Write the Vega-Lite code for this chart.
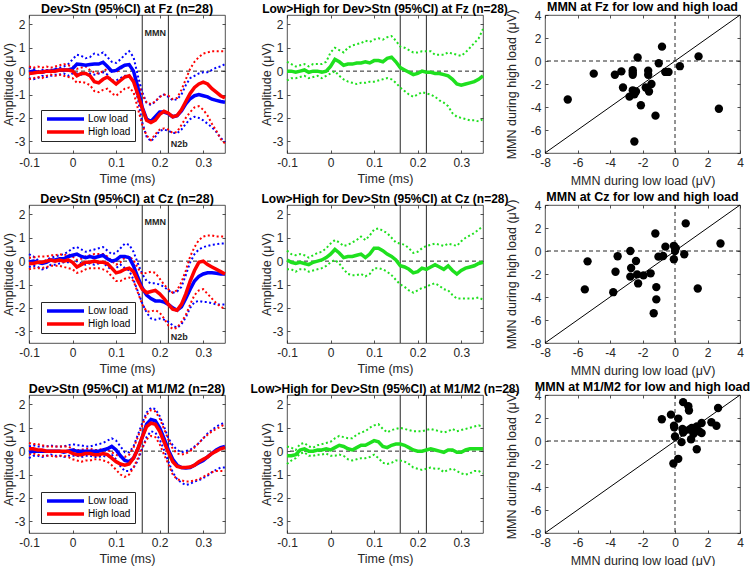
{
"$schema": "https://vega.github.io/schema/vega-lite/v6.json",
"autosize": {"type": "none"},
"padding": {"left": 29, "top": 15, "right": 721, "bottom": 551},
"background": "white",
"config": {
 "font": "Liberation Sans",
 "view": {"stroke": "#262626", "strokeWidth": 0.8},
 "axis": {"domain": false, "grid": false, "tickColor": "#262626", "tickSize": -3, "tickWidth": 0.8, "labelPadding": 7, "labelFont": "Liberation Sans", "labelFontSize": 12, "labelColor": "#262626", "titleFont": "Liberation Sans", "titleFontSize": 12.5, "titleFontWeight": "normal", "titleColor": "#262626", "labelFlush": false, "labelOverlap": false},
 "axisX": {"titlePadding": 4},
 "axisY": {"titlePadding": -1},
 "title": {"fontSize": 12.5, "fontWeight": "bold", "font": "Liberation Sans", "color": "black", "offset": -1},
 "legend": {"labelFont": "Liberation Sans"}
},
"datasets": {
"fz": [
{"t":-0.1,"lm":-0.05,"hm":-0.1,"lu":0.15,"ll":-0.3,"hu":0.2,"hl":-0.35,"g":0,"gu":0.4,"gl":-0.4},
{"t":-0.09,"lm":0,"hm":-0.08,"lu":0.1,"ll":-0.35,"hu":0.15,"hl":-0.3,"g":0,"gu":0.3,"gl":-0.3},
{"t":-0.08,"lm":-0.05,"hm":-0.05,"lu":0,"ll":-0.3,"hu":0.2,"hl":-0.25,"g":-0.05,"gu":0.2,"gl":-0.3},
{"t":-0.07,"lm":-0.05,"hm":-0.05,"lu":0.05,"ll":-0.2,"hu":0.15,"hl":-0.3,"g":0,"gu":0.25,"gl":-0.25},
{"t":-0.06,"lm":0,"hm":0,"lu":0.05,"ll":-0.25,"hu":0.2,"hl":-0.2,"g":0.05,"gu":0.3,"gl":-0.2},
{"t":-0.05,"lm":0,"hm":0,"lu":0.05,"ll":-0.2,"hu":0.15,"hl":-0.15,"g":-0.05,"gu":0.2,"gl":-0.3},
{"t":-0.04,"lm":0.05,"hm":0,"lu":0.1,"ll":-0.15,"hu":0.2,"hl":-0.2,"g":0,"gu":0.3,"gl":-0.25},
{"t":-0.03,"lm":0.05,"hm":0.05,"lu":0.15,"ll":-0.15,"hu":0.25,"hl":-0.15,"g":0,"gu":0.3,"gl":-0.2},
{"t":-0.02,"lm":0.05,"hm":0.05,"lu":0.2,"ll":-0.1,"hu":0.3,"hl":-0.2,"g":-0.05,"gu":0.3,"gl":-0.3},
{"t":-0.01,"lm":0.05,"hm":0.05,"lu":0.3,"ll":-0.2,"hu":0.25,"hl":-0.25,"g":0,"gu":0.4,"gl":-0.2},
{"t":0,"lm":0.1,"hm":0,"lu":0.5,"ll":-0.1,"hu":0.2,"hl":-0.3,"g":0.2,"gu":0.8,"gl":-0.1},
{"t":0.01,"lm":0.3,"hm":-0.2,"lu":0.7,"ll":-0.1,"hu":0.1,"hl":-0.5,"g":0.5,"gu":1.0,"gl":0},
{"t":0.02,"lm":0.28,"hm":-0.1,"lu":0.65,"ll":-0.15,"hu":0.15,"hl":-0.45,"g":0.4,"gu":0.9,"gl":-0.2},
{"t":0.03,"lm":0.25,"hm":-0.1,"lu":0.55,"ll":-0.1,"hu":0.2,"hl":-0.5,"g":0.25,"gu":0.8,"gl":-0.35},
{"t":0.04,"lm":0.28,"hm":-0.2,"lu":0.6,"ll":-0.1,"hu":0.05,"hl":-0.6,"g":0.3,"gu":1.0,"gl":-0.45},
{"t":0.05,"lm":0.3,"hm":-0.45,"lu":0.75,"ll":-0.15,"hu":-0.05,"hl":-0.85,"g":0.3,"gu":1.1,"gl":-0.5},
{"t":0.06,"lm":0.3,"hm":-0.5,"lu":0.7,"ll":-0.1,"hu":-0.1,"hl":-0.9,"g":0.35,"gu":1.15,"gl":-0.55},
{"t":0.07,"lm":0.38,"hm":-0.35,"lu":0.8,"ll":-0.05,"hu":0,"hl":-0.8,"g":0.35,"gu":1.2,"gl":-0.5},
{"t":0.08,"lm":0.2,"hm":-0.25,"lu":0.6,"ll":-0.15,"hu":0.1,"hl":-0.75,"g":0.4,"gu":1.3,"gl":-0.5},
{"t":0.09,"lm":0,"hm":-0.4,"lu":0.4,"ll":-0.4,"hu":0.05,"hl":-0.95,"g":0.35,"gu":1.25,"gl":-0.45},
{"t":0.1,"lm":0.03,"hm":-0.55,"lu":0.35,"ll":-0.4,"hu":-0.05,"hl":-1.05,"g":0.45,"gu":1.35,"gl":-0.45},
{"t":0.11,"lm":0.15,"hm":-0.4,"lu":0.5,"ll":-0.3,"hu":0.1,"hl":-0.9,"g":0.45,"gu":1.4,"gl":-0.4},
{"t":0.12,"lm":0.25,"hm":-0.25,"lu":0.7,"ll":-0.2,"hu":0.25,"hl":-0.75,"g":0.4,"gu":1.35,"gl":-0.35},
{"t":0.13,"lm":0.28,"hm":-0.2,"lu":0.85,"ll":-0.2,"hu":0.25,"hl":-0.7,"g":0.55,"gu":1.45,"gl":-0.3},
{"t":0.14,"lm":0,"hm":-0.45,"lu":0.6,"ll":-0.4,"hu":0,"hl":-0.9,"g":0.6,"gu":1.5,"gl":-0.35},
{"t":0.15,"lm":-0.7,"hm":-1,"lu":-0.2,"ll":-1.2,"hu":-0.5,"hl":-1.6,"g":0.4,"gu":1.3,"gl":-0.5},
{"t":0.16,"lm":-1.55,"hm":-1.6,"lu":-0.9,"ll":-2.2,"hu":-1,"hl":-2.3,"g":0.15,"gu":1.05,"gl":-0.7},
{"t":0.17,"lm":-2.05,"hm":-2.1,"lu":-1.35,"ll":-2.8,"hu":-1.35,"hl":-2.75,"g":0.05,"gu":1.0,"gl":-0.85},
{"t":0.18,"lm":-2.15,"hm":-2.2,"lu":-1.45,"ll":-3.0,"hu":-1.4,"hl":-2.95,"g":-0.05,"gu":0.9,"gl":-1.0},
{"t":0.19,"lm":-1.95,"hm":-2.1,"lu":-1.3,"ll":-2.8,"hu":-1.3,"hl":-2.7,"g":-0.15,"gu":0.8,"gl":-1.1},
{"t":0.2,"lm":-1.75,"hm":-1.85,"lu":-1.1,"ll":-2.55,"hu":-1.1,"hl":-2.5,"g":-0.1,"gu":0.8,"gl":-1.0},
{"t":0.21,"lm":-1.75,"hm":-1.72,"lu":-1.0,"ll":-2.5,"hu":-1.0,"hl":-2.45,"g":0,"gu":0.85,"gl":-0.9},
{"t":0.22,"lm":-1.82,"hm":-1.8,"lu":-1.1,"ll":-2.55,"hu":-1.05,"hl":-2.5,"g":-0.05,"gu":0.85,"gl":-0.95},
{"t":0.23,"lm":-1.95,"hm":-1.95,"lu":-1.25,"ll":-2.65,"hu":-1.2,"hl":-2.65,"g":-0.05,"gu":0.85,"gl":-1.0},
{"t":0.24,"lm":-1.9,"hm":-1.9,"lu":-1.2,"ll":-2.65,"hu":-1.15,"hl":-2.6,"g":-0.1,"gu":0.7,"gl":-1.1},
{"t":0.25,"lm":-1.7,"hm":-1.65,"lu":-1.0,"ll":-2.5,"hu":-0.8,"hl":-2.3,"g":-0.1,"gu":0.7,"gl":-1.25},
{"t":0.26,"lm":-1.4,"hm":-1.3,"lu":-0.6,"ll":-2.25,"hu":-0.35,"hl":-2.0,"g":-0.15,"gu":0.7,"gl":-1.35},
{"t":0.27,"lm":-1.18,"hm":-0.95,"lu":-0.3,"ll":-2.05,"hu":0.1,"hl":-1.75,"g":-0.2,"gu":0.8,"gl":-1.5},
{"t":0.28,"lm":-1.05,"hm":-0.7,"lu":-0.2,"ll":-1.95,"hu":0.4,"hl":-1.55,"g":-0.35,"gu":0.75,"gl":-1.8},
{"t":0.29,"lm":-1.0,"hm":-0.55,"lu":-0.1,"ll":-2.0,"hu":0.6,"hl":-1.5,"g":-0.55,"gu":0.7,"gl":-1.95},
{"t":0.3,"lm":-1.05,"hm":-0.47,"lu":-0.05,"ll":-2.1,"hu":0.75,"hl":-1.65,"g":-0.6,"gu":0.65,"gl":-2.0},
{"t":0.31,"lm":-1.1,"hm":-0.55,"lu":-0.05,"ll":-2.25,"hu":0.8,"hl":-1.9,"g":-0.55,"gu":0.8,"gl":-2.05},
{"t":0.32,"lm":-1.2,"hm":-0.75,"lu":0.05,"ll":-2.4,"hu":0.85,"hl":-2.25,"g":-0.5,"gu":1.0,"gl":-2.1},
{"t":0.33,"lm":-1.25,"hm":-0.9,"lu":0.15,"ll":-2.6,"hu":0.85,"hl":-2.55,"g":-0.45,"gu":1.2,"gl":-2.1},
{"t":0.34,"lm":-1.3,"hm":-1.05,"lu":0.2,"ll":-2.85,"hu":0.85,"hl":-2.9,"g":-0.35,"gu":1.4,"gl":-2.15},
{"t":0.35,"lm":-1.33,"hm":-1.15,"lu":0.3,"ll":-3.05,"hu":0.85,"hl":-3.1,"g":-0.2,"gu":1.8,"gl":-2.05}
],
"cz": [
{"t":-0.1,"lm":-0.05,"hm":-0.1,"lu":0.3,"ll":-0.25,"hu":0.15,"hl":-0.35,"g":0.05,"gu":0.45,"gl":-0.35},
{"t":-0.09,"lm":0,"hm":-0.1,"lu":0.2,"ll":-0.2,"hu":0.15,"hl":-0.3,"g":-0.05,"gu":0.3,"gl":-0.35},
{"t":-0.08,"lm":-0.05,"hm":-0.05,"lu":0.05,"ll":-0.25,"hu":0.2,"hl":-0.3,"g":-0.1,"gu":0.25,"gl":-0.45},
{"t":-0.07,"lm":-0.1,"hm":-0.05,"lu":-0.05,"ll":-0.35,"hu":0.2,"hl":-0.3,"g":-0.05,"gu":0.3,"gl":-0.35},
{"t":-0.06,"lm":-0.05,"hm":0,"lu":0.05,"ll":-0.3,"hu":0.2,"hl":-0.25,"g":-0.1,"gu":0.25,"gl":-0.35},
{"t":-0.05,"lm":0.05,"hm":0.05,"lu":0.15,"ll":-0.15,"hu":0.25,"hl":-0.2,"g":-0.15,"gu":0.15,"gl":-0.45},
{"t":-0.04,"lm":0.05,"hm":0,"lu":0.2,"ll":-0.15,"hu":0.25,"hl":-0.2,"g":-0.05,"gu":0.25,"gl":-0.4},
{"t":-0.03,"lm":0.1,"hm":0.05,"lu":0.25,"ll":-0.1,"hu":0.3,"hl":-0.2,"g":0,"gu":0.35,"gl":-0.35},
{"t":-0.02,"lm":0.1,"hm":0,"lu":0.3,"ll":-0.05,"hu":0.25,"hl":-0.25,"g":0.05,"gu":0.4,"gl":-0.3},
{"t":-0.01,"lm":0.2,"hm":0.05,"lu":0.4,"ll":-0.05,"hu":0.3,"hl":-0.3,"g":0.15,"gu":0.55,"gl":-0.2},
{"t":0,"lm":0.25,"hm":-0.05,"lu":0.55,"ll":-0.05,"hu":0.2,"hl":-0.35,"g":0.3,"gu":0.75,"gl":-0.05},
{"t":0.01,"lm":0.3,"hm":-0.25,"lu":0.6,"ll":0,"hu":0.05,"hl":-0.5,"g":0.5,"gu":0.9,"gl":0.05},
{"t":0.02,"lm":0.2,"hm":-0.15,"lu":0.5,"ll":-0.1,"hu":0.1,"hl":-0.45,"g":0.35,"gu":0.8,"gl":-0.1},
{"t":0.03,"lm":0.15,"hm":-0.05,"lu":0.4,"ll":-0.15,"hu":0.2,"hl":-0.35,"g":0.15,"gu":0.65,"gl":-0.35},
{"t":0.04,"lm":0.2,"hm":-0.05,"lu":0.45,"ll":-0.1,"hu":0.25,"hl":-0.3,"g":0.2,"gu":0.7,"gl":-0.55},
{"t":0.05,"lm":0.15,"hm":0,"lu":0.5,"ll":-0.15,"hu":0.3,"hl":-0.3,"g":0.2,"gu":0.8,"gl":-0.6},
{"t":0.06,"lm":0.2,"hm":-0.05,"lu":0.55,"ll":-0.1,"hu":0.3,"hl":-0.3,"g":0.25,"gu":0.9,"gl":-0.6},
{"t":0.07,"lm":0.25,"hm":-0.05,"lu":0.6,"ll":-0.05,"hu":0.3,"hl":-0.35,"g":0.3,"gu":1.05,"gl":-0.55},
{"t":0.08,"lm":0.1,"hm":-0.1,"lu":0.45,"ll":-0.25,"hu":0.2,"hl":-0.45,"g":0.15,"gu":0.9,"gl":-0.65},
{"t":0.09,"lm":0,"hm":-0.3,"lu":0.3,"ll":-0.35,"hu":0,"hl":-0.65,"g":0.3,"gu":1.1,"gl":-0.55},
{"t":0.1,"lm":0.05,"hm":-0.5,"lu":0.35,"ll":-0.3,"hu":-0.15,"hl":-0.85,"g":0.55,"gu":1.35,"gl":-0.3},
{"t":0.11,"lm":0.2,"hm":-0.45,"lu":0.55,"ll":-0.15,"hu":-0.05,"hl":-0.85,"g":0.55,"gu":1.4,"gl":-0.3},
{"t":0.12,"lm":0.2,"hm":-0.35,"lu":0.75,"ll":-0.3,"hu":0.15,"hl":-0.75,"g":0.45,"gu":1.3,"gl":-0.35},
{"t":0.13,"lm":0.15,"hm":-0.3,"lu":0.7,"ll":-0.4,"hu":0.2,"hl":-0.7,"g":0.3,"gu":1.2,"gl":-0.45},
{"t":0.14,"lm":-0.2,"hm":-0.45,"lu":0.4,"ll":-0.8,"hu":0.05,"hl":-0.85,"g":0.2,"gu":1.0,"gl":-0.6},
{"t":0.15,"lm":-0.7,"hm":-0.85,"lu":-0.1,"ll":-1.3,"hu":-0.3,"hl":-1.35,"g":0.05,"gu":0.8,"gl":-0.8},
{"t":0.16,"lm":-1.15,"hm":-1.2,"lu":-0.55,"ll":-1.8,"hu":-0.55,"hl":-1.85,"g":-0.2,"gu":0.75,"gl":-1.0},
{"t":0.17,"lm":-1.45,"hm":-1.35,"lu":-0.85,"ll":-2.2,"hu":-0.5,"hl":-2.15,"g":-0.25,"gu":0.7,"gl":-1.1},
{"t":0.18,"lm":-1.6,"hm":-1.3,"lu":-0.95,"ll":-2.45,"hu":-0.45,"hl":-2.15,"g":-0.35,"gu":0.55,"gl":-1.25},
{"t":0.19,"lm":-1.7,"hm":-1.25,"lu":-0.95,"ll":-2.5,"hu":-0.5,"hl":-2.1,"g":-0.5,"gu":0.35,"gl":-1.35},
{"t":0.2,"lm":-1.7,"hm":-1.4,"lu":-1.0,"ll":-2.45,"hu":-0.75,"hl":-2.2,"g":-0.45,"gu":0.4,"gl":-1.25},
{"t":0.21,"lm":-1.75,"hm":-1.6,"lu":-1.1,"ll":-2.5,"hu":-1.0,"hl":-2.45,"g":-0.3,"gu":0.55,"gl":-1.15},
{"t":0.22,"lm":-1.85,"hm":-1.85,"lu":-1.25,"ll":-2.6,"hu":-1.2,"hl":-2.75,"g":-0.35,"gu":0.65,"gl":-1.1},
{"t":0.23,"lm":-2.0,"hm":-2.05,"lu":-1.35,"ll":-2.75,"hu":-1.35,"hl":-2.9,"g":-0.25,"gu":0.7,"gl":-1.0},
{"t":0.24,"lm":-2.1,"hm":-2.1,"lu":-1.3,"ll":-2.85,"hu":-1.25,"hl":-2.85,"g":-0.15,"gu":0.75,"gl":-0.95},
{"t":0.25,"lm":-1.95,"hm":-1.85,"lu":-1.1,"ll":-2.7,"hu":-0.9,"hl":-2.6,"g":-0.25,"gu":0.7,"gl":-1.05},
{"t":0.26,"lm":-1.6,"hm":-1.4,"lu":-0.6,"ll":-2.4,"hu":-0.4,"hl":-2.3,"g":-0.35,"gu":0.65,"gl":-1.2},
{"t":0.27,"lm":-1.2,"hm":-0.85,"lu":-0.05,"ll":-2.0,"hu":0.2,"hl":-1.85,"g":-0.2,"gu":0.75,"gl":-1.25},
{"t":0.28,"lm":-0.85,"hm":-0.4,"lu":0.3,"ll":-1.75,"hu":0.6,"hl":-1.45,"g":-0.4,"gu":0.7,"gl":-1.45},
{"t":0.29,"lm":-0.65,"hm":-0.05,"lu":0.5,"ll":-1.7,"hu":0.9,"hl":-1.25,"g":-0.55,"gu":0.65,"gl":-1.6},
{"t":0.3,"lm":-0.55,"hm":0,"lu":0.6,"ll":-1.75,"hu":1.05,"hl":-1.2,"g":-0.4,"gu":0.85,"gl":-1.6},
{"t":0.31,"lm":-0.5,"hm":-0.15,"lu":0.65,"ll":-1.75,"hu":1.1,"hl":-1.4,"g":-0.3,"gu":1.0,"gl":-1.6},
{"t":0.32,"lm":-0.5,"hm":-0.25,"lu":0.7,"ll":-1.8,"hu":1.1,"hl":-1.6,"g":-0.25,"gu":1.1,"gl":-1.6},
{"t":0.33,"lm":-0.52,"hm":-0.35,"lu":0.72,"ll":-1.85,"hu":1.05,"hl":-1.8,"g":-0.2,"gu":1.2,"gl":-1.6},
{"t":0.34,"lm":-0.55,"hm":-0.45,"lu":0.75,"ll":-1.85,"hu":1.05,"hl":-1.95,"g":-0.1,"gu":1.35,"gl":-1.55},
{"t":0.35,"lm":-0.55,"hm":-0.55,"lu":0.75,"ll":-1.85,"hu":1.05,"hl":-2.05,"g":-0.05,"gu":1.5,"gl":-1.65}
],
"mm": [
{"t":-0.1,"lm":-0.05,"hm":0.1,"lu":0.2,"ll":-0.3,"hu":0.35,"hl":-0.15,"g":-0.2,"gu":0.2,"gl":-0.55},
{"t":-0.09,"lm":0,"hm":0.1,"lu":0.25,"ll":-0.2,"hu":0.3,"hl":-0.1,"g":-0.2,"gu":0.15,"gl":-0.4},
{"t":-0.08,"lm":0,"hm":0.05,"lu":0.2,"ll":-0.2,"hu":0.3,"hl":-0.15,"g":-0.15,"gu":0.05,"gl":-0.3},
{"t":-0.07,"lm":0,"hm":0.05,"lu":0.2,"ll":-0.25,"hu":0.25,"hl":-0.2,"g":0.05,"gu":0.3,"gl":-0.1},
{"t":-0.06,"lm":0,"hm":0,"lu":0.2,"ll":-0.2,"hu":0.2,"hl":-0.2,"g":0.1,"gu":0.35,"gl":-0.05},
{"t":-0.05,"lm":0,"hm":0,"lu":0.25,"ll":-0.15,"hu":0.2,"hl":-0.2,"g":0,"gu":0.2,"gl":-0.2},
{"t":-0.04,"lm":0,"hm":0,"lu":0.2,"ll":-0.2,"hu":0.2,"hl":-0.25,"g":0,"gu":0.15,"gl":-0.2},
{"t":-0.03,"lm":0,"hm":0,"lu":0.2,"ll":-0.2,"hu":0.2,"hl":-0.2,"g":0.05,"gu":0.25,"gl":-0.15},
{"t":-0.02,"lm":-0.05,"hm":0,"lu":0.2,"ll":-0.25,"hu":0.2,"hl":-0.2,"g":0.05,"gu":0.3,"gl":-0.15},
{"t":-0.01,"lm":0,"hm":0,"lu":0.25,"ll":-0.2,"hu":0.2,"hl":-0.25,"g":0.1,"gu":0.35,"gl":-0.1},
{"t":0,"lm":0.05,"hm":-0.1,"lu":0.3,"ll":-0.2,"hu":0.1,"hl":-0.35,"g":0.05,"gu":0.4,"gl":-0.2},
{"t":0.01,"lm":0,"hm":-0.15,"lu":0.25,"ll":-0.2,"hu":0.05,"hl":-0.4,"g":0.15,"gu":0.55,"gl":-0.2},
{"t":0.02,"lm":0,"hm":-0.15,"lu":0.25,"ll":-0.25,"hu":0.05,"hl":-0.45,"g":0.25,"gu":0.65,"gl":-0.15},
{"t":0.03,"lm":0,"hm":-0.1,"lu":0.2,"ll":-0.2,"hu":0.1,"hl":-0.4,"g":0.2,"gu":0.6,"gl":-0.2},
{"t":0.04,"lm":0,"hm":-0.1,"lu":0.2,"ll":-0.2,"hu":0.1,"hl":-0.4,"g":0.1,"gu":0.55,"gl":-0.35},
{"t":0.05,"lm":0,"hm":-0.15,"lu":0.25,"ll":-0.25,"hu":0.05,"hl":-0.35,"g":0.05,"gu":0.55,"gl":-0.4},
{"t":0.06,"lm":0,"hm":-0.15,"lu":0.3,"ll":-0.25,"hu":0.05,"hl":-0.35,"g":0.15,"gu":0.7,"gl":-0.35},
{"t":0.07,"lm":0.05,"hm":-0.1,"lu":0.35,"ll":-0.2,"hu":0.1,"hl":-0.4,"g":0.25,"gu":0.8,"gl":-0.3},
{"t":0.08,"lm":0.1,"hm":-0.15,"lu":0.45,"ll":-0.25,"hu":0.05,"hl":-0.45,"g":0.25,"gu":0.85,"gl":-0.3},
{"t":0.09,"lm":0.2,"hm":-0.3,"lu":0.55,"ll":-0.15,"hu":-0.05,"hl":-0.6,"g":0.35,"gu":1.0,"gl":-0.25},
{"t":0.1,"lm":0.05,"hm":-0.45,"lu":0.45,"ll":-0.35,"hu":-0.15,"hl":-0.8,"g":0.45,"gu":1.1,"gl":-0.15},
{"t":0.11,"lm":-0.2,"hm":-0.55,"lu":0.2,"ll":-0.65,"hu":-0.25,"hl":-1.0,"g":0.4,"gu":1.15,"gl":-0.3},
{"t":0.12,"lm":-0.4,"hm":-0.6,"lu":-0.05,"ll":-0.85,"hu":-0.25,"hl":-1.1,"g":0.2,"gu":0.95,"gl":-0.5},
{"t":0.13,"lm":-0.45,"hm":-0.55,"lu":-0.05,"ll":-0.85,"hu":-0.15,"hl":-1.0,"g":0.15,"gu":0.8,"gl":-0.55},
{"t":0.14,"lm":-0.3,"hm":-0.3,"lu":0.2,"ll":-0.7,"hu":0.15,"hl":-0.7,"g":0.25,"gu":0.9,"gl":-0.5},
{"t":0.15,"lm":0.1,"hm":0.1,"lu":0.7,"ll":-0.4,"hu":0.6,"hl":-0.3,"g":0.3,"gu":0.95,"gl":-0.4},
{"t":0.16,"lm":0.6,"hm":0.6,"lu":1.2,"ll":0.1,"hu":1.1,"hl":0.15,"g":0.3,"gu":1.0,"gl":-0.4},
{"t":0.17,"lm":1.15,"hm":1.05,"lu":1.65,"ll":0.6,"hu":1.55,"hl":0.5,"g":0.25,"gu":0.95,"gl":-0.45},
{"t":0.18,"lm":1.35,"hm":1.2,"lu":1.85,"ll":0.85,"hu":1.75,"hl":0.65,"g":0.15,"gu":0.9,"gl":-0.55},
{"t":0.19,"lm":1.3,"hm":1.15,"lu":1.8,"ll":0.8,"hu":1.7,"hl":0.6,"g":0.05,"gu":0.85,"gl":-0.7},
{"t":0.2,"lm":1.0,"hm":0.85,"lu":1.5,"ll":0.5,"hu":1.4,"hl":0.3,"g":0,"gu":0.85,"gl":-0.75},
{"t":0.21,"lm":0.55,"hm":0.4,"lu":1.05,"ll":0.05,"hu":0.95,"hl":-0.15,"g":0,"gu":0.85,"gl":-0.8},
{"t":0.22,"lm":0.05,"hm":-0.05,"lu":0.55,"ll":-0.45,"hu":0.5,"hl":-0.55,"g":0.05,"gu":0.9,"gl":-0.75},
{"t":0.23,"lm":-0.35,"hm":-0.45,"lu":0.25,"ll":-0.9,"hu":0.1,"hl":-1.0,"g":0.1,"gu":0.95,"gl":-0.7},
{"t":0.24,"lm":-0.6,"hm":-0.65,"lu":0.05,"ll":-1.2,"hu":-0.1,"hl":-1.2,"g":0.05,"gu":0.9,"gl":-0.75},
{"t":0.25,"lm":-0.7,"hm":-0.7,"lu":-0.05,"ll":-1.35,"hu":-0.15,"hl":-1.25,"g":0,"gu":0.85,"gl":-0.75},
{"t":0.26,"lm":-0.72,"hm":-0.7,"lu":0,"ll":-1.45,"hu":-0.1,"hl":-1.3,"g":-0.05,"gu":0.8,"gl":-0.9},
{"t":0.27,"lm":-0.7,"hm":-0.68,"lu":0.05,"ll":-1.4,"hu":0,"hl":-1.3,"g":0.05,"gu":0.85,"gl":-0.8},
{"t":0.28,"lm":-0.6,"hm":-0.6,"lu":0.2,"ll":-1.3,"hu":0.15,"hl":-1.25,"g":0.05,"gu":0.95,"gl":-0.75},
{"t":0.29,"lm":-0.5,"hm":-0.45,"lu":0.35,"ll":-1.25,"hu":0.35,"hl":-1.2,"g":-0.05,"gu":0.85,"gl":-0.85},
{"t":0.3,"lm":-0.4,"hm":-0.35,"lu":0.55,"ll":-1.15,"hu":0.55,"hl":-1.1,"g":-0.05,"gu":0.9,"gl":-0.95},
{"t":0.31,"lm":-0.25,"hm":-0.25,"lu":0.75,"ll":-1.05,"hu":0.7,"hl":-1.0,"g":0.05,"gu":0.95,"gl":-1.0},
{"t":0.32,"lm":-0.1,"hm":-0.1,"lu":0.9,"ll":-0.9,"hu":0.85,"hl":-0.9,"g":0.1,"gu":1.0,"gl":-0.95},
{"t":0.33,"lm":0.05,"hm":0,"lu":1.05,"ll":-0.8,"hu":0.95,"hl":-0.85,"g":0.1,"gu":1.05,"gl":-0.85},
{"t":0.34,"lm":0.15,"hm":0.1,"lu":1.15,"ll":-0.7,"hu":1.05,"hl":-0.85,"g":0.1,"gu":1.1,"gl":-0.85},
{"t":0.35,"lm":0.2,"hm":0.15,"lu":1.2,"ll":-0.7,"hu":1.15,"hl":-0.85,"g":0.1,"gu":1.05,"gl":-0.95}
],
"sfz": [
{"lo":-6.6,"hi":-3.35},{"lo":-5.0,"hi":-1.1},{"lo":-3.7,"hi":-1.2},{"lo":-3.3,"hi":-0.9},{"lo":-3.2,"hi":-2.3},{"lo":-2.8,"hi":-3.1},{"lo":-2.6,"hi":-0.8},{"lo":-2.6,"hi":-1.2},{"lo":-2.6,"hi":-2.55},{"lo":-2.5,"hi":-2.9},{"lo":-2.4,"hi":-2.65},{"lo":-2.5,"hi":-7.0},{"lo":-2.3,"hi":0.3},{"lo":-2.1,"hi":-3.85},{"lo":-1.8,"hi":-2.3},{"lo":-1.65,"hi":-0.85},{"lo":-1.65,"hi":-1.2},{"lo":-1.6,"hi":-2.65},{"lo":-1.45,"hi":-2.0},{"lo":-1.2,"hi":-4.75},{"lo":-1.0,"hi":-0.2},{"lo":-0.8,"hi":1.25},{"lo":-0.6,"hi":-0.95},{"lo":-0.4,"hi":-0.95},{"lo":0.3,"hi":-0.45},{"lo":1.45,"hi":0.4},{"lo":2.7,"hi":-4.15},{"lo":-2.6,"hi":-1.0}
],
"scz": [
{"lo":-5.55,"hi":-3.34},{"lo":-5.38,"hi":-0.9},{"lo":-3.8,"hi":-3.58},{"lo":-3.66,"hi":-1.8},{"lo":-3.53,"hi":-0.46},{"lo":-2.75,"hi":0.0},{"lo":-2.7,"hi":-1.48},{"lo":-2.75,"hi":-2.23},{"lo":-2.4,"hi":-0.87},{"lo":-2.33,"hi":-2.03},{"lo":-2.27,"hi":-2.82},{"lo":-1.94,"hi":-2.12},{"lo":-1.5,"hi":-1.94},{"lo":-1.21,"hi":1.52},{"lo":-1.15,"hi":-3.14},{"lo":-1.15,"hi":-4.21},{"lo":-1.31,"hi":-5.41},{"lo":-1.02,"hi":-0.49},{"lo":-0.73,"hi":-0.43},{"lo":-0.59,"hi":0.38},{"lo":-0.07,"hi":0.45},{"lo":0,"hi":0},{"lo":-0.07,"hi":-0.72},{"lo":0.57,"hi":-0.28},{"lo":0.66,"hi":2.4},{"lo":1.4,"hi":-3.26},{"lo":2.8,"hi":0.65},{"lo":0.05,"hi":0.25}
],
"smm": [
{"lo":-0.81,"hi":1.89},{"lo":-0.25,"hi":2.29},{"lo":-0.06,"hi":1.33},{"lo":0,"hi":0.39},{"lo":0.2,"hi":1.95},{"lo":-0.1,"hi":-1.96},{"lo":0.2,"hi":-1.55},{"lo":0.4,"hi":-0.1},{"lo":0.5,"hi":3.38},{"lo":0.46,"hi":1.04},{"lo":0.5,"hi":0.74},{"lo":0.82,"hi":3.03},{"lo":0.86,"hi":2.65},{"lo":1.03,"hi":1.13},{"lo":0.99,"hi":0.15},{"lo":1.34,"hi":1.27},{"lo":1.34,"hi":-0.72},{"lo":1.5,"hi":0.83},{"lo":1.64,"hi":1.57},{"lo":1.64,"hi":0.69},{"lo":2.24,"hi":1.63},{"lo":2.55,"hi":1.33},{"lo":2.65,"hi":2.87},{"lo":1.14,"hi":0.62},{"lo":-0.05,"hi":1.2},{"lo":0.9,"hi":1.0},{"lo":1.2,"hi":1.0},{"lo":0.6,"hi":0.9}
]
},
"columns": 3,
"spacing": {"row": 52, "column": 62},
"bounds": "flush",
"resolve": {"scale": {"color": "independent"}},
"concat": [
{
 "title": "Dev>Stn (95%CI) at Fz (n=28)",
 "width": 196, "height": 138,
 "data": {"name": "fz"},
 "resolve": {"axis": {"x": "independent", "y": "independent"}},
 "layer": [
  {"data": {"values": [{"t": 0.16}, {"t": 0.22}]}, "mark": {"type": "rule", "color": "#262626", "strokeWidth": 1},
   "encoding": {"x": {"field": "t", "type": "quantitative", "scale": {"domain": [-0.1, 0.35], "nice": false, "zero": false}, "axis": {"orient": "top", "values": [-0.1, 0, 0.1, 0.2, 0.3], "labels": false, "title": null}}}},
  {"data": {"values": [{"v": 0}]}, "mark": {"type": "rule", "color": "#262626", "strokeWidth": 1, "strokeDash": [4, 3]},
   "encoding": {"y": {"field": "v", "type": "quantitative", "scale": {"domain": [-3.5, 2.4], "nice": false, "zero": false}, "axis": {"orient": "right", "values": [-3, -2, -1, 0, 1, 2], "labels": false, "title": null}}}},
  {"transform": [{"fold": ["lu", "ll", "hu", "hl"], "as": ["k", "v"]}], "mark": {"type": "line", "strokeWidth": 2, "strokeDash": [2, 2.5]},
   "encoding": {"x": {"field": "t", "type": "quantitative", "scale": {"domain": [-0.1, 0.35], "nice": false, "zero": false}, "axis": {"values": [-0.1, 0, 0.1, 0.2, 0.3], "labelExpr": "'' + datum.value", "title": "Time (ms)"}},
    "y": {"field": "v", "type": "quantitative", "scale": {"domain": [-3.5, 2.4], "nice": false, "zero": false}, "axis": {"values": [-3, -2, -1, 0, 1, 2], "labelExpr": "'' + datum.value", "title": "Amplitude (μV)"}},
    "color": {"field": "k", "type": "nominal", "scale": {"domain": ["lm", "hm", "lu", "ll", "hu", "hl"], "range": ["#0000ff", "#ff0000", "#0000ff", "#0000ff", "#ff0000", "#ff0000"]},
     "legend": {"values": ["lm", "hm"], "labelExpr": "datum.label == 'lm' ? 'Low load' : 'High load'", "orient": "none", "legendX": 12, "legendY": 95, "title": null, "symbolType": "stroke", "symbolSize": 1369, "symbolStrokeWidth": 3.5, "symbolDash": [1, 0], "clipHeight": 10, "labelFontSize": 10, "labelColor": "black", "fillColor": "white", "strokeColor": "#262626", "padding": 4, "rowPadding": 3, "labelOffset": 2}}}},
  {"transform": [{"fold": ["lm", "hm"], "as": ["k", "v"]}], "mark": {"type": "line", "strokeWidth": 3.5},
   "encoding": {"x": {"field": "t", "type": "quantitative", "scale": {"domain": [-0.1, 0.35], "nice": false, "zero": false}, "axis": null},
    "y": {"field": "v", "type": "quantitative", "scale": {"domain": [-3.5, 2.4], "nice": false, "zero": false}, "axis": null},
    "color": {"field": "k", "type": "nominal", "scale": {"domain": ["lm", "hm", "lu", "ll", "hu", "hl"], "range": ["#0000ff", "#ff0000", "#0000ff", "#0000ff", "#ff0000", "#ff0000"]},
     "legend": {"values": ["lm", "hm"], "labelExpr": "datum.label == 'lm' ? 'Low load' : 'High load'", "orient": "none", "legendX": 12, "legendY": 95, "title": null, "symbolType": "stroke", "symbolSize": 1369, "symbolStrokeWidth": 3.5, "symbolDash": [1, 0], "clipHeight": 10, "labelFontSize": 10, "labelColor": "black", "fillColor": "white", "strokeColor": "#262626", "padding": 4, "rowPadding": 3, "labelOffset": 2}}}},
  {"data": {"values": [{"t": 0.19, "v": 1.65, "s": "MMN"}, {"t": 0.245, "v": -3.13, "s": "N2b"}]}, "mark": {"type": "text", "fontWeight": "bold", "fontSize": 9, "color": "#262626"},
   "encoding": {"x": {"field": "t", "type": "quantitative", "scale": {"domain": [-0.1, 0.35], "nice": false, "zero": false}, "axis": null},
    "y": {"field": "v", "type": "quantitative", "scale": {"domain": [-3.5, 2.4], "nice": false, "zero": false}, "axis": null}, "text": {"field": "s"}}}
 ]
},
{
 "title": {"text": "Low>High for Dev>Stn (95%CI) at Fz (n=28)", "fontSize": 12},
 "width": 196, "height": 138,
 "data": {"name": "fz"},
 "resolve": {"axis": {"x": "independent", "y": "independent"}},
 "layer": [
  {"data": {"values": [{"t": 0.16}, {"t": 0.22}]}, "mark": {"type": "rule", "color": "#262626", "strokeWidth": 1},
   "encoding": {"x": {"field": "t", "type": "quantitative", "scale": {"domain": [-0.1, 0.35], "nice": false, "zero": false}, "axis": {"orient": "top", "values": [-0.1, 0, 0.1, 0.2, 0.3], "labels": false, "title": null}}}},
  {"data": {"values": [{"v": 0}]}, "mark": {"type": "rule", "color": "#262626", "strokeWidth": 1, "strokeDash": [4, 3]},
   "encoding": {"y": {"field": "v", "type": "quantitative", "scale": {"domain": [-3.5, 2.4], "nice": false, "zero": false}, "axis": {"orient": "right", "values": [-3, -2, -1, 0, 1, 2], "labels": false, "title": null}}}},
  {"transform": [{"fold": ["gu", "gl"], "as": ["k", "v"]}], "mark": {"type": "line", "strokeWidth": 2, "strokeDash": [2, 2.5], "color": "#1fe01f"},
   "encoding": {"x": {"field": "t", "type": "quantitative", "scale": {"domain": [-0.1, 0.35], "nice": false, "zero": false}, "axis": {"values": [-0.1, 0, 0.1, 0.2, 0.3], "labelExpr": "'' + datum.value", "title": "Time (ms)"}},
    "y": {"field": "v", "type": "quantitative", "scale": {"domain": [-3.5, 2.4], "nice": false, "zero": false}, "axis": {"values": [-3, -2, -1, 0, 1, 2], "labelExpr": "'' + datum.value", "title": "Amplitude (μV)"}},
    "detail": {"field": "k"}}},
  {"mark": {"type": "line", "strokeWidth": 3.5, "color": "#1fe01f"},
   "encoding": {"x": {"field": "t", "type": "quantitative", "scale": {"domain": [-0.1, 0.35], "nice": false, "zero": false}, "axis": null},
    "y": {"field": "g", "type": "quantitative", "scale": {"domain": [-3.5, 2.4], "nice": false, "zero": false}, "axis": null}}}
 ]
},
{
 "title": {"text": "MMN at Fz for low and high load", "offset": -4},
 "width": 195, "height": 138,
 "resolve": {"axis": {"x": "independent", "y": "independent"}},
 "layer": [
  {"data": {"values": [{"a": -8, "b": -8}, {"a": 4, "b": 4}]}, "mark": {"type": "line", "color": "black", "strokeWidth": 1},
   "encoding": {"x": {"field": "a", "type": "quantitative", "scale": {"domain": [-8, 4], "nice": false, "zero": false}, "axis": {"orient": "top", "values": [-8, -6, -4, -2, 0, 2, 4], "labels": false, "title": null}},
    "y": {"field": "b", "type": "quantitative", "scale": {"domain": [-8, 4], "nice": false, "zero": false}, "axis": {"orient": "right", "values": [-8, -6, -4, -2, 0, 2, 4], "labels": false, "title": null}}}},
  {"data": {"values": [{"z": 0}]}, "mark": {"type": "rule", "color": "#262626", "strokeWidth": 1, "strokeDash": [4, 3]},
   "encoding": {"x": {"field": "z", "type": "quantitative", "scale": {"domain": [-8, 4], "nice": false, "zero": false}, "axis": null}}},
  {"data": {"values": [{"z": 0}]}, "mark": {"type": "rule", "color": "#262626", "strokeWidth": 1, "strokeDash": [4, 3]},
   "encoding": {"y": {"field": "z", "type": "quantitative", "scale": {"domain": [-8, 4], "nice": false, "zero": false}, "axis": null}}},
  {"data": {"name": "sfz"}, "mark": {"type": "circle", "size": 70, "color": "black", "opacity": 1},
   "encoding": {"x": {"field": "lo", "type": "quantitative", "scale": {"domain": [-8, 4], "nice": false, "zero": false}, "axis": {"values": [-8, -6, -4, -2, 0, 2, 4], "labelExpr": "'' + datum.value", "title": "MMN during low load (μV)", "titlePadding": 6}},
    "y": {"field": "hi", "type": "quantitative", "scale": {"domain": [-8, 4], "nice": false, "zero": false}, "axis": {"values": [-8, -6, -4, -2, 0, 2, 4], "labelExpr": "'' + datum.value", "title": "MMN during high load (μV)", "titlePadding": 12}}}}
 ]
},
{
 "title": "Dev>Stn (95%CI) at Cz (n=28)",
 "width": 196, "height": 138,
 "data": {"name": "cz"},
 "resolve": {"axis": {"x": "independent", "y": "independent"}},
 "layer": [
  {"data": {"values": [{"t": 0.16}, {"t": 0.22}]}, "mark": {"type": "rule", "color": "#262626", "strokeWidth": 1},
   "encoding": {"x": {"field": "t", "type": "quantitative", "scale": {"domain": [-0.1, 0.35], "nice": false, "zero": false}, "axis": {"orient": "top", "values": [-0.1, 0, 0.1, 0.2, 0.3], "labels": false, "title": null}}}},
  {"data": {"values": [{"v": 0}]}, "mark": {"type": "rule", "color": "#262626", "strokeWidth": 1, "strokeDash": [4, 3]},
   "encoding": {"y": {"field": "v", "type": "quantitative", "scale": {"domain": [-3.5, 2.4], "nice": false, "zero": false}, "axis": {"orient": "right", "values": [-3, -2, -1, 0, 1, 2], "labels": false, "title": null}}}},
  {"transform": [{"fold": ["lu", "ll", "hu", "hl"], "as": ["k", "v"]}], "mark": {"type": "line", "strokeWidth": 2, "strokeDash": [2, 2.5]},
   "encoding": {"x": {"field": "t", "type": "quantitative", "scale": {"domain": [-0.1, 0.35], "nice": false, "zero": false}, "axis": {"values": [-0.1, 0, 0.1, 0.2, 0.3], "labelExpr": "'' + datum.value", "title": "Time (ms)"}},
    "y": {"field": "v", "type": "quantitative", "scale": {"domain": [-3.5, 2.4], "nice": false, "zero": false}, "axis": {"values": [-3, -2, -1, 0, 1, 2], "labelExpr": "'' + datum.value", "title": "Amplitude (μV)"}},
    "color": {"field": "k", "type": "nominal", "scale": {"domain": ["lm", "hm", "lu", "ll", "hu", "hl"], "range": ["#0000ff", "#ff0000", "#0000ff", "#0000ff", "#ff0000", "#ff0000"]},
     "legend": {"values": ["lm", "hm"], "labelExpr": "datum.label == 'lm' ? 'Low load' : 'High load'", "orient": "none", "legendX": 12, "legendY": 97, "title": null, "symbolType": "stroke", "symbolSize": 1369, "symbolStrokeWidth": 3.5, "symbolDash": [1, 0], "clipHeight": 10, "labelFontSize": 10, "labelColor": "black", "fillColor": "white", "strokeColor": "#262626", "padding": 4, "rowPadding": 3, "labelOffset": 2}}}},
  {"transform": [{"fold": ["lm", "hm"], "as": ["k", "v"]}], "mark": {"type": "line", "strokeWidth": 3.5},
   "encoding": {"x": {"field": "t", "type": "quantitative", "scale": {"domain": [-0.1, 0.35], "nice": false, "zero": false}, "axis": null},
    "y": {"field": "v", "type": "quantitative", "scale": {"domain": [-3.5, 2.4], "nice": false, "zero": false}, "axis": null},
    "color": {"field": "k", "type": "nominal", "scale": {"domain": ["lm", "hm", "lu", "ll", "hu", "hl"], "range": ["#0000ff", "#ff0000", "#0000ff", "#0000ff", "#ff0000", "#ff0000"]},
     "legend": {"values": ["lm", "hm"], "labelExpr": "datum.label == 'lm' ? 'Low load' : 'High load'", "orient": "none", "legendX": 12, "legendY": 97, "title": null, "symbolType": "stroke", "symbolSize": 1369, "symbolStrokeWidth": 3.5, "symbolDash": [1, 0], "clipHeight": 10, "labelFontSize": 10, "labelColor": "black", "fillColor": "white", "strokeColor": "#262626", "padding": 4, "rowPadding": 3, "labelOffset": 2}}}},
  {"data": {"values": [{"t": 0.19, "v": 1.68, "s": "MMN"}, {"t": 0.245, "v": -3.26, "s": "N2b"}]}, "mark": {"type": "text", "fontWeight": "bold", "fontSize": 9, "color": "#262626"},
   "encoding": {"x": {"field": "t", "type": "quantitative", "scale": {"domain": [-0.1, 0.35], "nice": false, "zero": false}, "axis": null},
    "y": {"field": "v", "type": "quantitative", "scale": {"domain": [-3.5, 2.4], "nice": false, "zero": false}, "axis": null}, "text": {"field": "s"}}}
 ]
},
{
 "title": {"text": "Low>High for Dev>Stn (95%CI) at Cz (n=28)", "fontSize": 12},
 "width": 196, "height": 138,
 "data": {"name": "cz"},
 "resolve": {"axis": {"x": "independent", "y": "independent"}},
 "layer": [
  {"data": {"values": [{"t": 0.16}, {"t": 0.22}]}, "mark": {"type": "rule", "color": "#262626", "strokeWidth": 1},
   "encoding": {"x": {"field": "t", "type": "quantitative", "scale": {"domain": [-0.1, 0.35], "nice": false, "zero": false}, "axis": {"orient": "top", "values": [-0.1, 0, 0.1, 0.2, 0.3], "labels": false, "title": null}}}},
  {"data": {"values": [{"v": 0}]}, "mark": {"type": "rule", "color": "#262626", "strokeWidth": 1, "strokeDash": [4, 3]},
   "encoding": {"y": {"field": "v", "type": "quantitative", "scale": {"domain": [-3.5, 2.4], "nice": false, "zero": false}, "axis": {"orient": "right", "values": [-3, -2, -1, 0, 1, 2], "labels": false, "title": null}}}},
  {"transform": [{"fold": ["gu", "gl"], "as": ["k", "v"]}], "mark": {"type": "line", "strokeWidth": 2, "strokeDash": [2, 2.5], "color": "#1fe01f"},
   "encoding": {"x": {"field": "t", "type": "quantitative", "scale": {"domain": [-0.1, 0.35], "nice": false, "zero": false}, "axis": {"values": [-0.1, 0, 0.1, 0.2, 0.3], "labelExpr": "'' + datum.value", "title": "Time (ms)"}},
    "y": {"field": "v", "type": "quantitative", "scale": {"domain": [-3.5, 2.4], "nice": false, "zero": false}, "axis": {"values": [-3, -2, -1, 0, 1, 2], "labelExpr": "'' + datum.value", "title": "Amplitude (μV)"}},
    "detail": {"field": "k"}}},
  {"mark": {"type": "line", "strokeWidth": 3.5, "color": "#1fe01f"},
   "encoding": {"x": {"field": "t", "type": "quantitative", "scale": {"domain": [-0.1, 0.35], "nice": false, "zero": false}, "axis": null},
    "y": {"field": "g", "type": "quantitative", "scale": {"domain": [-3.5, 2.4], "nice": false, "zero": false}, "axis": null}}}
 ]
},
{
 "title": {"text": "MMN at Cz for low and high load", "offset": -4},
 "width": 195, "height": 138,
 "resolve": {"axis": {"x": "independent", "y": "independent"}},
 "layer": [
  {"data": {"values": [{"a": -8, "b": -8}, {"a": 4, "b": 4}]}, "mark": {"type": "line", "color": "black", "strokeWidth": 1},
   "encoding": {"x": {"field": "a", "type": "quantitative", "scale": {"domain": [-8, 4], "nice": false, "zero": false}, "axis": {"orient": "top", "values": [-8, -6, -4, -2, 0, 2, 4], "labels": false, "title": null}},
    "y": {"field": "b", "type": "quantitative", "scale": {"domain": [-8, 4], "nice": false, "zero": false}, "axis": {"orient": "right", "values": [-8, -6, -4, -2, 0, 2, 4], "labels": false, "title": null}}}},
  {"data": {"values": [{"z": 0}]}, "mark": {"type": "rule", "color": "#262626", "strokeWidth": 1, "strokeDash": [4, 3]},
   "encoding": {"x": {"field": "z", "type": "quantitative", "scale": {"domain": [-8, 4], "nice": false, "zero": false}, "axis": null}}},
  {"data": {"values": [{"z": 0}]}, "mark": {"type": "rule", "color": "#262626", "strokeWidth": 1, "strokeDash": [4, 3]},
   "encoding": {"y": {"field": "z", "type": "quantitative", "scale": {"domain": [-8, 4], "nice": false, "zero": false}, "axis": null}}},
  {"data": {"name": "scz"}, "mark": {"type": "circle", "size": 70, "color": "black", "opacity": 1},
   "encoding": {"x": {"field": "lo", "type": "quantitative", "scale": {"domain": [-8, 4], "nice": false, "zero": false}, "axis": {"values": [-8, -6, -4, -2, 0, 2, 4], "labelExpr": "'' + datum.value", "title": "MMN during low load (μV)", "titlePadding": 6}},
    "y": {"field": "hi", "type": "quantitative", "scale": {"domain": [-8, 4], "nice": false, "zero": false}, "axis": {"values": [-8, -6, -4, -2, 0, 2, 4], "labelExpr": "'' + datum.value", "title": "MMN during high load (μV)", "titlePadding": 12}}}}
 ]
},
{
 "title": "Dev>Stn (95%CI) at M1/M2 (n=28)",
 "width": 196, "height": 138,
 "data": {"name": "mm"},
 "resolve": {"axis": {"x": "independent", "y": "independent"}},
 "layer": [
  {"data": {"values": [{"t": 0.16}, {"t": 0.22}]}, "mark": {"type": "rule", "color": "#262626", "strokeWidth": 1},
   "encoding": {"x": {"field": "t", "type": "quantitative", "scale": {"domain": [-0.1, 0.35], "nice": false, "zero": false}, "axis": {"orient": "top", "values": [-0.1, 0, 0.1, 0.2, 0.3], "labels": false, "title": null}}}},
  {"data": {"values": [{"v": 0}]}, "mark": {"type": "rule", "color": "#262626", "strokeWidth": 1, "strokeDash": [4, 3]},
   "encoding": {"y": {"field": "v", "type": "quantitative", "scale": {"domain": [-3.5, 2.4], "nice": false, "zero": false}, "axis": {"orient": "right", "values": [-3, -2, -1, 0, 1, 2], "labels": false, "title": null}}}},
  {"transform": [{"fold": ["lu", "ll", "hu", "hl"], "as": ["k", "v"]}], "mark": {"type": "line", "strokeWidth": 2, "strokeDash": [2, 2.5]},
   "encoding": {"x": {"field": "t", "type": "quantitative", "scale": {"domain": [-0.1, 0.35], "nice": false, "zero": false}, "axis": {"values": [-0.1, 0, 0.1, 0.2, 0.3], "labelExpr": "'' + datum.value", "title": "Time (ms)"}},
    "y": {"field": "v", "type": "quantitative", "scale": {"domain": [-3.5, 2.4], "nice": false, "zero": false}, "axis": {"values": [-3, -2, -1, 0, 1, 2], "labelExpr": "'' + datum.value", "title": "Amplitude (μV)"}},
    "color": {"field": "k", "type": "nominal", "scale": {"domain": ["lm", "hm", "lu", "ll", "hu", "hl"], "range": ["#0000ff", "#ff0000", "#0000ff", "#0000ff", "#ff0000", "#ff0000"]},
     "legend": {"values": ["lm", "hm"], "labelExpr": "datum.label == 'lm' ? 'Low load' : 'High load'", "orient": "none", "legendX": 12, "legendY": 97, "title": null, "symbolType": "stroke", "symbolSize": 1369, "symbolStrokeWidth": 3.5, "symbolDash": [1, 0], "clipHeight": 10, "labelFontSize": 10, "labelColor": "black", "fillColor": "white", "strokeColor": "#262626", "padding": 4, "rowPadding": 3, "labelOffset": 2}}}},
  {"transform": [{"fold": ["lm", "hm"], "as": ["k", "v"]}], "mark": {"type": "line", "strokeWidth": 3.5},
   "encoding": {"x": {"field": "t", "type": "quantitative", "scale": {"domain": [-0.1, 0.35], "nice": false, "zero": false}, "axis": null},
    "y": {"field": "v", "type": "quantitative", "scale": {"domain": [-3.5, 2.4], "nice": false, "zero": false}, "axis": null},
    "color": {"field": "k", "type": "nominal", "scale": {"domain": ["lm", "hm", "lu", "ll", "hu", "hl"], "range": ["#0000ff", "#ff0000", "#0000ff", "#0000ff", "#ff0000", "#ff0000"]},
     "legend": {"values": ["lm", "hm"], "labelExpr": "datum.label == 'lm' ? 'Low load' : 'High load'", "orient": "none", "legendX": 12, "legendY": 97, "title": null, "symbolType": "stroke", "symbolSize": 1369, "symbolStrokeWidth": 3.5, "symbolDash": [1, 0], "clipHeight": 10, "labelFontSize": 10, "labelColor": "black", "fillColor": "white", "strokeColor": "#262626", "padding": 4, "rowPadding": 3, "labelOffset": 2}}}}
 ]
},
{
 "title": {"text": "Low>High for Dev>Stn (95%CI) at M1/M2 (n=28)", "fontSize": 12},
 "width": 196, "height": 138,
 "data": {"name": "mm"},
 "resolve": {"axis": {"x": "independent", "y": "independent"}},
 "layer": [
  {"data": {"values": [{"t": 0.16}, {"t": 0.22}]}, "mark": {"type": "rule", "color": "#262626", "strokeWidth": 1},
   "encoding": {"x": {"field": "t", "type": "quantitative", "scale": {"domain": [-0.1, 0.35], "nice": false, "zero": false}, "axis": {"orient": "top", "values": [-0.1, 0, 0.1, 0.2, 0.3], "labels": false, "title": null}}}},
  {"data": {"values": [{"v": 0}]}, "mark": {"type": "rule", "color": "#262626", "strokeWidth": 1, "strokeDash": [4, 3]},
   "encoding": {"y": {"field": "v", "type": "quantitative", "scale": {"domain": [-3.5, 2.4], "nice": false, "zero": false}, "axis": {"orient": "right", "values": [-3, -2, -1, 0, 1, 2], "labels": false, "title": null}}}},
  {"transform": [{"fold": ["gu", "gl"], "as": ["k", "v"]}], "mark": {"type": "line", "strokeWidth": 2, "strokeDash": [2, 2.5], "color": "#1fe01f"},
   "encoding": {"x": {"field": "t", "type": "quantitative", "scale": {"domain": [-0.1, 0.35], "nice": false, "zero": false}, "axis": {"values": [-0.1, 0, 0.1, 0.2, 0.3], "labelExpr": "'' + datum.value", "title": "Time (ms)"}},
    "y": {"field": "v", "type": "quantitative", "scale": {"domain": [-3.5, 2.4], "nice": false, "zero": false}, "axis": {"values": [-3, -2, -1, 0, 1, 2], "labelExpr": "'' + datum.value", "title": "Amplitude (μV)"}},
    "detail": {"field": "k"}}},
  {"mark": {"type": "line", "strokeWidth": 3.5, "color": "#1fe01f"},
   "encoding": {"x": {"field": "t", "type": "quantitative", "scale": {"domain": [-0.1, 0.35], "nice": false, "zero": false}, "axis": null},
    "y": {"field": "g", "type": "quantitative", "scale": {"domain": [-3.5, 2.4], "nice": false, "zero": false}, "axis": null}}}
 ]
},
{
 "title": {"text": "MMN at M1/M2 for low and high load", "offset": -4},
 "width": 195, "height": 138,
 "resolve": {"axis": {"x": "independent", "y": "independent"}},
 "layer": [
  {"data": {"values": [{"a": -8, "b": -8}, {"a": 4, "b": 4}]}, "mark": {"type": "line", "color": "black", "strokeWidth": 1},
   "encoding": {"x": {"field": "a", "type": "quantitative", "scale": {"domain": [-8, 4], "nice": false, "zero": false}, "axis": {"orient": "top", "values": [-8, -6, -4, -2, 0, 2, 4], "labels": false, "title": null}},
    "y": {"field": "b", "type": "quantitative", "scale": {"domain": [-8, 4], "nice": false, "zero": false}, "axis": {"orient": "right", "values": [-8, -6, -4, -2, 0, 2, 4], "labels": false, "title": null}}}},
  {"data": {"values": [{"z": 0}]}, "mark": {"type": "rule", "color": "#262626", "strokeWidth": 1, "strokeDash": [4, 3]},
   "encoding": {"x": {"field": "z", "type": "quantitative", "scale": {"domain": [-8, 4], "nice": false, "zero": false}, "axis": null}}},
  {"data": {"values": [{"z": 0}]}, "mark": {"type": "rule", "color": "#262626", "strokeWidth": 1, "strokeDash": [4, 3]},
   "encoding": {"y": {"field": "z", "type": "quantitative", "scale": {"domain": [-8, 4], "nice": false, "zero": false}, "axis": null}}},
  {"data": {"name": "smm"}, "mark": {"type": "circle", "size": 70, "color": "black", "opacity": 1},
   "encoding": {"x": {"field": "lo", "type": "quantitative", "scale": {"domain": [-8, 4], "nice": false, "zero": false}, "axis": {"values": [-8, -6, -4, -2, 0, 2, 4], "labelExpr": "'' + datum.value", "title": "MMN during low load (μV)", "titlePadding": 6}},
    "y": {"field": "hi", "type": "quantitative", "scale": {"domain": [-8, 4], "nice": false, "zero": false}, "axis": {"values": [-8, -6, -4, -2, 0, 2, 4], "labelExpr": "'' + datum.value", "title": "MMN during high load (μV)", "titlePadding": 12}}}}
 ]
}
]
}
